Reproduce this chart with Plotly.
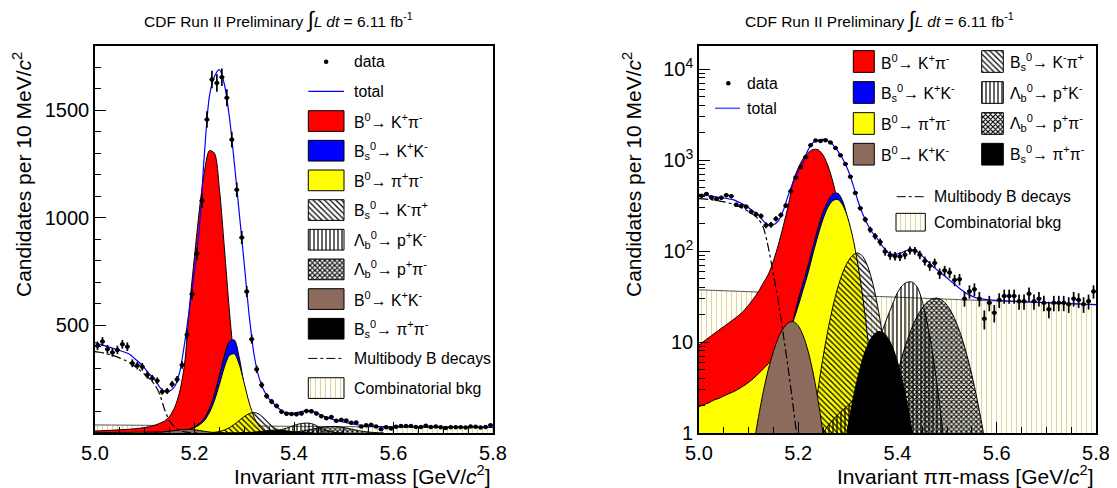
import plotly.graph_objects as go

FONT = "Liberation Sans, Arial, Helvetica, sans-serif"
REF_W, REF_H = 1117, 488
OFF = 8                      # page body margin of the written html
FW, FH = REF_W - OFF, REF_H - OFF

# ---------------- data ----------------
BIN_START = 5.0
BIN_WIDTH = 0.01
counts = [405, 425, 389, 374, 386, 412, 401, 324, 313, 308,
          270, 254, 243, 192, 195, 226, 249, 316, 456, 645,
          834, 1079, 1456, 1642, 1626, 1653, 1557, 1363, 1130, 908,
          657, 436, 296, 223, 172, 146, 126, 99, 90, 88,
          87, 91, 102, 101, 91, 78, 69, 74, 57, 61,
          58, 48, 49, 30, 36, 38, 30, 18, 27, 21,
          29, 32, 32, 32, 28, 28, 34, 28, 30, 27,
          23, 27, 27, 27, 26, 30, 29, 26, 28, 36]

# fitted curves sampled every 10 MeV, each starting at the given mass
total_start = 5.00
total_fit = [420, 412, 405, 398, 390, 383, 375, 365, 345, 325,
             300, 272, 250, 213, 193, 195, 215, 280, 415, 580,
             750, 955, 1300, 1565, 1655, 1688, 1620, 1470, 1255, 1020,
             785, 545, 360, 255, 195, 158, 135, 113, 97, 92,
             93, 97, 102, 103, 98, 88, 78, 69, 62, 56,
             50.5, 45.5, 41, 37, 34, 32, 30.5, 29.8, 29.3, 29.0,
             28.7, 28.5, 28.3, 28.2, 28.0, 27.9, 27.7, 27.6, 27.4, 27.3,
             27.1, 27.0, 26.9, 26.7, 26.6, 26.5, 26.3, 26.2, 26.0, 25.9, 25.8]

comb_mass = [5.0, 5.1, 5.2, 5.3, 5.4, 5.5, 5.6, 5.7, 5.8]
comb_bkg = [37.5, 35.8, 34.1, 32.6, 31.1, 29.6, 28.3, 27.0, 25.7]

kpi_start = 5.00
b0_kpi = [9.3, 10.2, 11.2, 12.3, 13.5, 14.8, 16.2, 17.8, 19.6, 22,
          25.5, 30, 36, 45, 56, 78, 118, 190, 320, 590,
          820, 1040, 1215, 1312, 1300, 1135, 862, 571, 330, 166,
          73, 28, 9.3, 2.7, 0.7]

bskk_start = 5.17
bs_kk = [7, 10.5, 17.5, 29, 45, 70, 114, 180, 268, 358,
         425, 432, 350, 220, 120, 55, 20, 6, 1.5]

pipi_start = 5.00
b0_pipi = [1.95, 2.05, 2.15, 2.3, 2.4, 2.55, 2.7, 2.85, 3.05, 3.3,
           3.6, 4.0, 4.5, 5.1, 5.8, 6.8, 8.0, 9.8, 12.5, 17,
           25, 38, 58, 95, 150, 225, 305, 360, 368, 318,
           230, 140, 72, 31, 11, 3.3, 0.9, 0.2]

bskpi_start = 5.22
bs_kpi = [0.44, 1.22, 3.05, 6.8, 13.7, 24.8, 40.2, 58.6, 76.6, 90,
          95, 87.3, 67.9, 44.6, 24.7, 11.6, 4.6, 1.55, 0.44]

lbpk_start = 5.24
lb_pk = [0.85, 1.0, 1.2, 1.4, 1.6, 1.8, 2.0, 2.3, 2.7, 3.3,
         4.3, 6.0, 9.0, 13.5, 19, 26, 35, 42, 45.5, 45.5,
         40, 28, 16, 8, 3.3, 1.2, 0.4]

lbppi_start = 5.37
lb_ppi = [0.8, 1.5, 2.7, 4.5, 7.2, 10.6, 14.8, 19.4, 23.8, 27.5,
          29.8, 30.4, 28.8, 25.3, 20.7, 15.6, 11.0, 7.1, 4.3, 2.4,
          1.25, 0.6]

b0kk_start = 5.10
b0_kk = [0.30, 0.71, 1.52, 2.92, 5.07, 7.9, 11.2, 14.2, 16.25, 16.75,
         15.1, 11.7, 7.9, 4.57, 2.27, 0.98, 0.36]

bspipi_start = 5.29
bs_pipi = [0.5, 1.14, 2.3, 4.1, 6.6, 9.3, 11.65, 13.0, 12.8, 11.25,
           8.8, 6.05, 3.7, 2.0, 0.98, 0.42]

multi_start = 5.00
multibody = [378, 375, 370, 364, 357, 348, 338, 325, 310, 292,
             272, 250, 225, 180, 108, 55, 28, 12, 5, 1.9,
             0.7, 0.25]

x_ticks = [5.0, 5.2, 5.4, 5.6, 5.8]
lin_ticks = [500, 1000, 1500]
log_tickvals = [1, 10, 100, 1000, 10000]
log_ticktext = ["1", "10", "10<sup>2</sup>", "10<sup>3</sup>", "10<sup>4</sup>"]
log_minor = [m * 10 ** e for e in range(0, 4) for m in range(2, 10)] + [20000]


def masses(start, n):
    return [round(start + BIN_WIDTH * i, 3) for i in range(n)]


bin_centers = [round(BIN_START + BIN_WIDTH * (i + 0.5), 4) for i in range(len(counts))]


def px(x):
    return (x - OFF) / FW


def py(y):
    return 1 - (y - OFF) / FH


# ---------------- styling ----------------
C_RED = "#ff0000"
C_BLUE = "#0000ff"
C_YEL = "#ffff00"
C_BROWN = "#8c6a5c"
C_BLACK = "#000000"
CLEAR = "rgba(0,0,0,0)"
C_BKG = "#fffef7"

PAT_BKG = dict(shape="|", fgcolor="#ddd3a6", bgcolor=C_BKG, size=5, solidity=0.2)
PAT_BSKPI = dict(shape="\\", fgcolor="black", bgcolor=CLEAR, size=4, solidity=0.3)
PAT_LBPK = dict(shape="|", fgcolor="black", bgcolor=CLEAR, size=4, solidity=0.3)
PAT_LBPPI = dict(shape="x", fgcolor="black", bgcolor=CLEAR, size=3.5, solidity=0.55)

components = [
    (comb_mass, comb_bkg, C_BKG, PAT_BKG, "#555555"),
    (masses(kpi_start, len(b0_kpi)), b0_kpi, C_RED, None, "black"),
    (masses(bskk_start, len(bs_kk)), bs_kk, C_BLUE, None, "black"),
    (masses(pipi_start, len(b0_pipi)), b0_pipi, C_YEL, None, "black"),
    (masses(bskpi_start, len(bs_kpi)), bs_kpi, CLEAR, PAT_BSKPI, "black"),
    (masses(lbpk_start, len(lb_pk)), lb_pk, CLEAR, PAT_LBPK, "black"),
    (masses(lbppi_start, len(lb_ppi)), lb_ppi, CLEAR, PAT_LBPPI, "black"),
    (masses(b0kk_start, len(b0_kk)), b0_kk, C_BROWN, None, "black"),
    (masses(bspipi_start, len(bs_pipi)), bs_pipi, C_BLACK, None, "black"),
]

fig = go.Figure()

for xa, ya in (("x", "y"), ("x2", "y2")):
    for xs, ys, fc, pat, lc in components:
        kw = dict(x=xs, y=ys, xaxis=xa, yaxis=ya, mode="lines", fill="tozeroy",
                  fillcolor=fc, line=dict(color=lc, width=1, shape="spline", smoothing=0.8),
                  showlegend=False, hoverinfo="skip")
        if pat is not None:
            kw["fillpattern"] = pat
        fig.add_trace(go.Scatter(**kw))
    fig.add_trace(go.Scatter(x=masses(multi_start, len(multibody)), y=multibody, xaxis=xa, yaxis=ya,
                             mode="lines", line=dict(color="black", width=1.2, dash="dashdot",
                                                     shape="spline", smoothing=0.6),
                             showlegend=False, hoverinfo="skip"))
    fig.add_trace(go.Scatter(x=masses(total_start, len(total_fit)), y=total_fit, xaxis=xa, yaxis=ya,
                             mode="lines", line=dict(color=C_BLUE, width=1.2, shape="spline", smoothing=0.8),
                             showlegend=False, hoverinfo="skip"))
    fig.add_trace(go.Scatter(x=bin_centers, y=counts, xaxis=xa, yaxis=ya, mode="markers",
                             marker=dict(color="black", size=4.5),
                             error_y=dict(type="sqrt", color="black", thickness=1.7, width=0),
                             error_x=dict(type="constant", value=BIN_WIDTH / 2, color="black",
                                          thickness=1.7, width=0),
                             showlegend=False, hoverinfo="skip"))


# ---------------- legends (drawn on a pixel-space overlay axis) ----------------
def box(x0, x1, yc, h, fc, pat):
    y0, y1 = yc - h / 2, yc + h / 2
    kw = dict(x=[x0, x1, x1, x0, x0], y=[y0, y0, y1, y1, y0], xaxis="x3", yaxis="y3",
              mode="lines", fill="toself", fillcolor=fc, line=dict(color="black", width=1),
              showlegend=False, hoverinfo="skip")
    if pat is not None:
        kw["fillpattern"] = pat
    fig.add_trace(go.Scatter(**kw))


def hline(x0, x1, yc, color, dash="solid", width=1.2):
    fig.add_trace(go.Scatter(x=[x0, x1], y=[yc, yc], xaxis="x3", yaxis="y3", mode="lines",
                             line=dict(color=color, width=width, dash=dash),
                             showlegend=False, hoverinfo="skip"))


def dot(xc, yc):
    fig.add_trace(go.Scatter(x=[xc], y=[yc], xaxis="x3", yaxis="y3", mode="markers",
                             marker=dict(color="black", size=4.5), showlegend=False, hoverinfo="skip"))


annotations = []
LEG_FONT = dict(family=FONT, size=15.8, color="black")


def text(x, y, s, size=None, xanchor="left"):
    f = dict(LEG_FONT)
    if size:
        f["size"] = size
    annotations.append(dict(x=px(x), y=py(y), xref="paper", yref="paper", text=s,
                            showarrow=False, xanchor=xanchor, yanchor="middle", font=f))


L_KPI = "B<sup>0</sup>→ K<sup>+</sup>π<sup>-</sup>"
L_BSKK = "B<sub>s</sub><sup>0</sup>→ K<sup>+</sup>K<sup>-</sup>"
L_PIPI = "B<sup>0</sup>→ π<sup>+</sup>π<sup>-</sup>"
L_BSKPI = "B<sub>s</sub><sup>0</sup>→ K<sup>-</sup>π<sup>+</sup>"
L_LBPK = "Λ<sub>b</sub><sup>0</sup>→ p<sup>+</sup>K<sup>-</sup>"
L_LBPPI = "Λ<sub>b</sub><sup>0</sup>→ p<sup>+</sup>π<sup>-</sup>"
L_B0KK = "B<sup>0</sup>→ K<sup>+</sup>K<sup>-</sup>"
L_BSPIPI = "B<sub>s</sub><sup>0</sup>→ π<sup>+</sup>π<sup>-</sup>"

# left legend
lx0, lx1, ltx = 308.3, 344.0, 352.3
row0, pitch = 61.7, 29.67
dot((lx0 + lx1) / 2, row0)
text(ltx, row0, "data")
hline(lx0, lx1, row0 + pitch, C_BLUE)
text(ltx, row0 + pitch, "total")
left_items = [(C_RED, None, L_KPI), (C_BLUE, None, L_BSKK), (C_YEL, None, L_PIPI),
              ("white", PAT_BSKPI, L_BSKPI), ("white", PAT_LBPK, L_LBPK),
              ("white", PAT_LBPPI, L_LBPPI), (C_BROWN, None, L_B0KK), (C_BLACK, None, L_BSPIPI)]
for k, (fc, pat, lab) in enumerate(left_items):
    yc = row0 + pitch * (k + 2)
    box(lx0, lx1, yc, 20.7, fc, pat)
    text(ltx, yc, lab)
hline(lx0, lx1, row0 + pitch * 10, "black", dash="dashdot", width=1)
text(ltx, row0 + pitch * 10, "Multibody B decays")
box(lx0, lx1, row0 + pitch * 11, 20.7, C_BKG, PAT_BKG)
text(ltx, row0 + pitch * 11, "Combinatorial bkg")

# right legend
dot(728.3, 83.3)
text(745, 83.3, "data")
hline(715, 740, 108.3, "#5c5cff", width=1.6)
text(745, 108.3, "total")
rrows = [61.5, 92.5, 123.5, 154.2]
col1 = [(C_RED, None, L_KPI), (C_BLUE, None, L_BSKK), (C_YEL, None, L_PIPI), (C_BROWN, None, L_B0KK)]
col2 = [("white", PAT_BSKPI, L_BSKPI), ("white", PAT_LBPK, L_LBPK),
        ("white", PAT_LBPPI, L_LBPPI), (C_BLACK, None, L_BSPIPI)]
for yc, (fc, pat, lab) in zip(rrows, col1):
    box(853.3, 874.3, yc, 21.7, fc, pat)
    text(879, yc, lab)
for yc, (fc, pat, lab) in zip(rrows, col2):
    box(981.7, 1003.3, yc, 21.7, fc, pat)
    text(1007.7, yc, lab)
hline(896.7, 926.7, 196.7, "black", dash="dashdot", width=1)
text(932.3, 196.7, "Multibody B decays")
box(896, 925.3, 222.2, 17.7, C_BKG, PAT_BKG)
text(932.3, 222.2, "Combinatorial bkg")

# titles
TITLE = ("CDF Run II Preliminary <span style='font-size:22px'>∫</span>"
         "<i>L dt</i> = 6.11 fb<sup>-1</sup>")
text(278.5, 19, TITLE, size=15.5, xanchor="center")
text(879, 19, TITLE, size=15.5, xanchor="center")

AX_FONT = dict(family=FONT, size=21, color="black")
YT = "Candidates per 10 MeV/<i>c</i><sup>2</sup>"
XT = "Invariant ππ-mass [GeV/<i>c</i><sup>2</sup>]"
for xc in (22, 632):
    annotations.append(dict(x=px(xc), y=py(175), xref="paper", yref="paper", text=YT,
                            textangle=-90, showarrow=False, xanchor="center", yanchor="middle",
                            font=AX_FONT))
for xr, yc in ((493, 475), (1096, 475)):
    annotations.append(dict(x=px(xr), y=py(yc), xref="paper", yref="paper", text=XT,
                            showarrow=False, xanchor="right", yanchor="middle", font=AX_FONT))

TICK_FONT = dict(family=FONT, size=20, color="black")
common_x = dict(range=[5.0, 5.8], tickvals=x_ticks, ticktext=[f"{v:.1f}" for v in x_ticks],
                ticks="inside", ticklen=11, tickwidth=1, tickcolor="black", ticklabelstandoff=1,
                minor=dict(dtick=0.05, tick0=5.0, ticks="inside", ticklen=6, tickcolor="black", showgrid=False),
                showline=True, linecolor="black", linewidth=1.6, mirror=True, automargin=False,
                showgrid=False, zeroline=False, tickfont=TICK_FONT, fixedrange=True)
ydom = [py(433), py(45.5)]

fig.update_layout(
    template="none",
    width=FW, height=FH, margin=dict(l=0, r=0, t=0, b=0, pad=0, autoexpand=False),
    paper_bgcolor="white", plot_bgcolor="rgba(0,0,0,0)",
    font=dict(family=FONT, color="black"),
    showlegend=False,
    xaxis=dict(domain=[px(95), px(493)], anchor="y", **common_x),
    xaxis2=dict(domain=[px(699), px(1096)], anchor="y2", **common_x),
    yaxis=dict(domain=ydom, anchor="x", range=[0, 1800], tickvals=lin_ticks,
               ticks="inside", ticklen=11, tickcolor="black",
               minor=dict(dtick=100, tick0=0, ticks="inside", ticklen=6, tickcolor="black", showgrid=False),
               showline=True, linecolor="black", linewidth=1.6, mirror=True, automargin=False,
               showgrid=False, zeroline=False, tickfont=TICK_FONT, fixedrange=True),
    yaxis2=dict(domain=ydom, anchor="x2", type="log", range=[0, 4.26],
                tickvals=log_tickvals, ticktext=log_ticktext,
                ticks="inside", ticklen=11, tickcolor="black",
                minor=dict(tickvals=log_minor, ticks="inside", ticklen=6, tickcolor="black", showgrid=False),
                showline=True, linecolor="black", linewidth=1.6, mirror=True, automargin=False,
                showgrid=False, zeroline=False, tickfont=TICK_FONT, fixedrange=True),
    xaxis3=dict(domain=[0, 1], anchor="y3", range=[OFF, OFF + FW], visible=False,
                fixedrange=True, automargin=False),
    yaxis3=dict(domain=[0, 1], anchor="x3", range=[OFF + FH, OFF], visible=False,
                fixedrange=True, automargin=False),
    annotations=annotations,
)

fig.write_html("out.html")
